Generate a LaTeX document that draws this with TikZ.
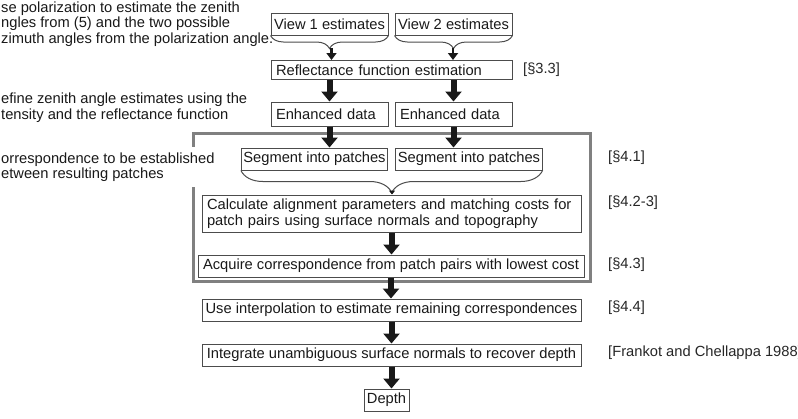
\documentclass[tikz,border=0pt]{standalone}
\usepackage{fontspec}
\setmainfont{Liberation Sans}
\usetikzlibrary{arrows.meta,decorations.pathreplacing}
\newcommand{\flowfont}{\fontsize{14.7bp}{16.5bp}\selectfont}
\newcommand{\notefont}{\fontsize{14.7bp}{15.5bp}\selectfont}
\begin{document}
\begin{tikzpicture}[x=1bp, y=-1bp]
 % styles for boxes, arrows and side notes
 \tikzset{stepbox/.style={draw=black!70, line width=1bp, inner xsep=2bp, inner ysep=0bp, minimum height=22bp, font=\flowfont, text=black!90},
  leftbox/.style={stepbox, inner xsep=5bp, align=left, text width=#1},
  bigarrow/.style={-{Triangle[width=16bp,length=10bp]}, line width=6bp, black!90},
  smallarrow/.style={-{Triangle[width=10bp,length=7bp]}, line width=2.5bp, black!90},
  tinyarrow/.style={-{Triangle[width=6bp,length=4bp]}, line width=1bp, black!90},
  bracebottom/.style={decorate, decoration={brace, mirror, amplitude=#1}, draw=black!70, line width=1bp},
  note/.style={anchor=west, align=left, font=\notefont, text=black!90, fill=white, inner xsep=1bp, inner ysep=5bp},
  secref/.style={anchor=west, font=\flowfont, text=black!85, inner sep=0bp}}

 \useasboundingbox (0,0) rectangle (798,418);

 %grey frame round the matching stage
 \draw[line width=3bp, black!50] (193,133) rectangle (590,281);

 %notes on the left
 \node[note] (polnote) at (0,24) {se polarization to estimate the zenith\\ngles from (5) and the two possible\\zimuth angles from the polarization angle.};
 \node[note] (refnote) at (0,107.5) {efine zenith angle estimates using the\\tensity and the reflectance function};
 \node[note] (corrnote) at (0,167) {orrespondence to be established\\etween resulting patches};

 %boxes of the flow
 \node[stepbox, minimum width=117bp] (view1) at (329.5,24) {View 1 estimates};
 \node[stepbox, minimum width=117bp] (view2) at (453.5,24) {View 2 estimates};
 \node[leftbox=231bp, minimum height=19bp] (refl) at (391.5,70) {Reflectance function estimation};
 \node[leftbox=107bp, minimum height=24bp] (enh1) at (329.5,114) {Enhanced data};
 \node[leftbox=107bp, minimum height=24bp] (enh2) at (453.5,114) {Enhanced data};
 \node[stepbox, minimum width=145bp] (seg1) at (314.5,159) {Segment into patches};
 \node[stepbox, minimum width=146bp] (seg2) at (469,159) {Segment into patches};
 \node[leftbox=369bp, minimum height=37bp] (align) at (391.5,213.5) {Calculate alignment parameters and matching costs for\\patch pairs using surface normals and topography};
 \node[stepbox, minimum width=386bp] (acquire) at (391,266) {Acquire correspondence from patch pairs with lowest cost};
 \node[stepbox, minimum width=379bp] (interp) at (391.5,310) {Use interpolation to estimate remaining correspondences};
 \node[stepbox, minimum width=379bp] (integ) at (391.5,355) {Integrate unambiguous surface normals to recover depth};
 \node[stepbox, minimum width=45bp] (depth) at (386.5,400) {Depth};

 %section references on the right
 \node[secref] (ref33) at (523,70) {[§3.3]};
 \node[secref] (ref41) at (608,158) {[§4.1]};
 \node[secref] (ref423) at (608,203) {[§4.2-3]};
 \node[secref] (ref43) at (608,265) {[§4.3]};
 \node[secref] (ref44) at (608,308) {[§4.4]};
 \node[secref] (reffc) at (608,353) {[Frankot and Chellappa 1988]};

 %braces under the view and segment boxes
 \draw[bracebottom=13bp] (view1.south west) -- (view1.south east);
 \draw[bracebottom=13bp] (view2.south west) -- (view2.south east);
 \draw[bracebottom=22bp] (seg1.south west) -- (seg2.south east);
 \coordinate (tip1) at (331.5,48);
 \coordinate (tip2) at (453,48);
 \coordinate (tip3) at (392,192);

 %arrows
 \draw[smallarrow] (tip1) -- (tip1 |- refl.north);
 \draw[smallarrow] (tip2) -- (tip2 |- refl.north);
 \draw[bigarrow] (enh1.north |- refl.south) -- (enh1.north);
 \draw[bigarrow] (enh2.north |- refl.south) -- (enh2.north);
 \draw[bigarrow] (enh1.south) -- (enh1.south |- seg1.north);
 \draw[bigarrow] (enh2.south) -- (enh2.south |- seg2.north);
 \draw[tinyarrow] (tip3) -- (tip3 |- align.north);
 \draw[bigarrow] (align.south) -- (align.south |- acquire.north);
 \draw[bigarrow] (acquire.south) -- (acquire.south |- interp.north);
 \draw[bigarrow] (interp.south) -- (interp.south |- integ.north);
 \draw[bigarrow] (integ.south) -- (integ.south |- depth.north);
\end{tikzpicture}
\end{document}
